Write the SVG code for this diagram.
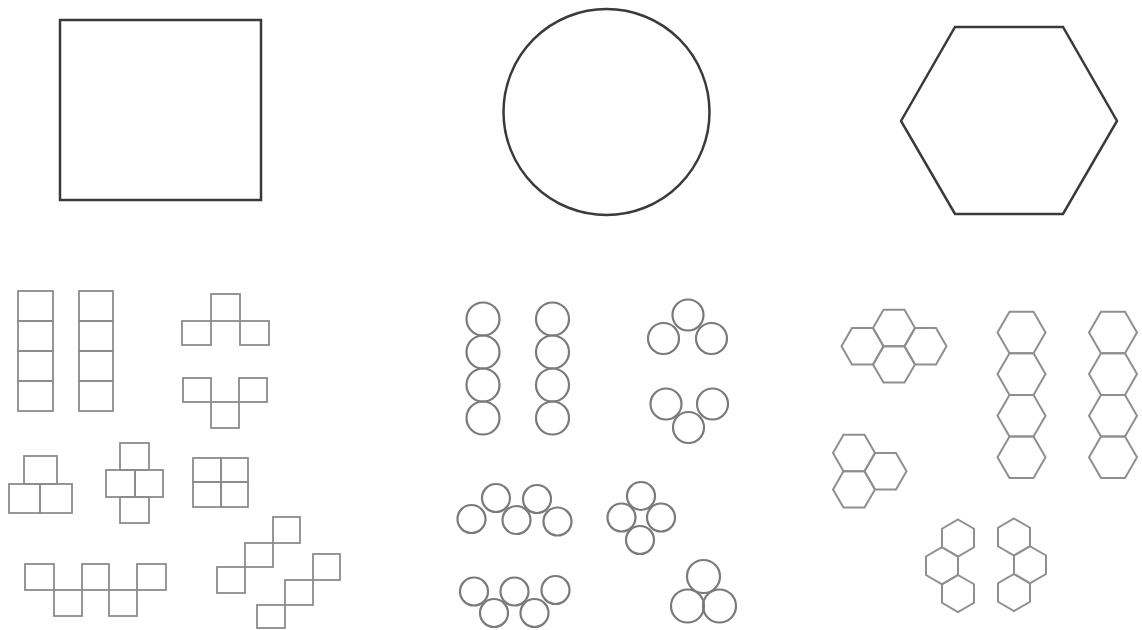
<svg xmlns="http://www.w3.org/2000/svg" width="1142" height="630" viewBox="0 0 1142 630">
<style>
.big{fill:none;stroke:#3a3a3a;stroke-width:2.5}
.sq{fill:none;stroke:#8c8c8c;stroke-width:1.8}
.ci{fill:none;stroke:#7a7a7a;stroke-width:2.2}
.hx{fill:none;stroke:#8f8f8f;stroke-width:2}
</style>
<defs>
<polygon id="hexF" points="-21,0 -10.5,-18.2 10.5,-18.2 21,0 10.5,18.2 -10.5,18.2"/>
<polygon id="hexL" points="-24,0 -12,-20.8 12,-20.8 24,0 12,20.8 -12,20.8"/>
<polygon id="hexP" points="0,-18.5 16,-9.25 16,9.25 0,18.5 -16,9.25 -16,-9.25"/>
</defs>
<rect width="1142" height="630" fill="#ffffff"/>
<g id="big-square"><rect class="big" x="60" y="20" width="201" height="180"/></g>
<g id="big-circle"><circle class="big" cx="606.5" cy="112" r="103"/></g>
<g id="big-hexagon"><polygon class="big" points="901,121 955,27 1063,27 1117,121 1063,214 955,214"/></g>
<g id="squares">
<g id="sq-col1"><rect class="sq" x="18" y="291" width="35" height="30"/><rect class="sq" x="18" y="321" width="35" height="30"/><rect class="sq" x="18" y="351" width="35" height="30"/><rect class="sq" x="18" y="381" width="35" height="30"/></g>
<g id="sq-col2"><rect class="sq" x="79" y="291" width="34" height="30"/><rect class="sq" x="79" y="321" width="34" height="30"/><rect class="sq" x="79" y="351" width="34" height="30"/><rect class="sq" x="79" y="381" width="34" height="30"/></g>
<g id="sq-t-up"><rect class="sq" x="211" y="294" width="29" height="27"/><rect class="sq" x="182" y="321" width="29" height="24"/><rect class="sq" x="240" y="321" width="29" height="24"/></g>
<g id="sq-t-down"><rect class="sq" x="183" y="378" width="28" height="24"/><rect class="sq" x="239" y="378" width="28" height="24"/><rect class="sq" x="211" y="402" width="28" height="26"/></g>
<g id="sq-tri"><rect class="sq" x="24" y="456" width="33" height="28"/><rect class="sq" x="9" y="484" width="31" height="29"/><rect class="sq" x="40" y="484" width="32" height="29"/></g>
<g id="sq-cross"><rect class="sq" x="120" y="443" width="29" height="27"/><rect class="sq" x="106" y="470" width="29" height="27"/><rect class="sq" x="135" y="470" width="28" height="27"/><rect class="sq" x="120" y="497" width="29" height="26"/></g>
<g id="sq-grid"><rect class="sq" x="193" y="458" width="28" height="24"/><rect class="sq" x="221" y="458" width="27" height="24"/><rect class="sq" x="193" y="482" width="28" height="25"/><rect class="sq" x="221" y="482" width="27" height="25"/></g>
<g id="sq-zigzag"><rect class="sq" x="25" y="564" width="29" height="26"/><rect class="sq" x="54" y="590" width="28" height="26"/><rect class="sq" x="82" y="564" width="27" height="26"/><rect class="sq" x="109" y="590" width="28" height="26"/><rect class="sq" x="137" y="564" width="29" height="26"/></g>
<g id="sq-stair1"><rect class="sq" x="273" y="517" width="27" height="26"/><rect class="sq" x="245" y="543" width="28" height="24"/><rect class="sq" x="217" y="567" width="28" height="26"/></g>
<g id="sq-stair2"><rect class="sq" x="313" y="554" width="27" height="26"/><rect class="sq" x="285" y="580" width="28" height="25"/><rect class="sq" x="257" y="605" width="28" height="23"/></g>
</g>
<g id="circles">
<g id="ci-col1"><circle class="ci" cx="483" cy="319" r="16.5"/><circle class="ci" cx="483" cy="352" r="16.5"/><circle class="ci" cx="483" cy="385" r="16.5"/><circle class="ci" cx="483" cy="418" r="16.5"/></g>
<g id="ci-col2"><circle class="ci" cx="552.5" cy="319" r="16.5"/><circle class="ci" cx="552.5" cy="352" r="16.5"/><circle class="ci" cx="552.5" cy="385" r="16.5"/><circle class="ci" cx="552.5" cy="418" r="16.5"/></g>
<g id="ci-tri-up"><circle class="ci" cx="688" cy="315" r="15.5"/><circle class="ci" cx="663.5" cy="338.5" r="15.5"/><circle class="ci" cx="711.5" cy="338.5" r="15.5"/></g>
<g id="ci-tri-down"><circle class="ci" cx="666" cy="404" r="15.5"/><circle class="ci" cx="712.5" cy="404" r="15.5"/><circle class="ci" cx="688.5" cy="427.5" r="15.5"/></g>
<g id="ci-wave1"><circle class="ci" cx="471.5" cy="519" r="14"/><circle class="ci" cx="496" cy="498" r="14"/><circle class="ci" cx="516.5" cy="520" r="14"/><circle class="ci" cx="537" cy="499" r="14"/><circle class="ci" cx="557.5" cy="521.5" r="14"/></g>
<g id="ci-plus"><circle class="ci" cx="641" cy="496" r="14"/><circle class="ci" cx="621.5" cy="517.5" r="14"/><circle class="ci" cx="661" cy="517.5" r="14"/><circle class="ci" cx="640" cy="540" r="14"/></g>
<g id="ci-wave2"><circle class="ci" cx="474" cy="591.5" r="14"/><circle class="ci" cx="494" cy="613" r="14"/><circle class="ci" cx="514.5" cy="591.5" r="14"/><circle class="ci" cx="534.5" cy="613" r="14"/><circle class="ci" cx="555.5" cy="590" r="14"/></g>
<g id="ci-pyramid"><circle class="ci" cx="703.5" cy="576.5" r="16.5"/><circle class="ci" cx="687.5" cy="606" r="16.5"/><circle class="ci" cx="719.5" cy="606" r="16.5"/></g>
</g>
<g id="hexagons">
<g id="hx-flower"><use href="#hexF" class="hx" x="894" y="328"/><use href="#hexF" class="hx" x="862.5" y="346.2"/><use href="#hexF" class="hx" x="925.5" y="346.2"/><use href="#hexF" class="hx" x="894" y="364.4"/></g>
<g id="hx-tri"><use href="#hexF" class="hx" x="854" y="453"/><use href="#hexF" class="hx" x="885.5" y="471.2"/><use href="#hexF" class="hx" x="854" y="489.4"/></g>
<g id="hx-col1"><use href="#hexL" class="hx" x="1021.5" y="332.5"/><use href="#hexL" class="hx" x="1021.5" y="374.1"/><use href="#hexL" class="hx" x="1021.5" y="415.7"/><use href="#hexL" class="hx" x="1021.5" y="457.3"/></g>
<g id="hx-col2"><use href="#hexL" class="hx" x="1113" y="332.5"/><use href="#hexL" class="hx" x="1113" y="374.1"/><use href="#hexL" class="hx" x="1113" y="415.7"/><use href="#hexL" class="hx" x="1113" y="457.3"/></g>
<g id="hx-chain1"><use href="#hexP" class="hx" x="958" y="538"/><use href="#hexP" class="hx" x="942" y="565.75"/><use href="#hexP" class="hx" x="958" y="593.5"/></g>
<g id="hx-chain2"><use href="#hexP" class="hx" x="1014" y="537"/><use href="#hexP" class="hx" x="1030" y="564.75"/><use href="#hexP" class="hx" x="1014" y="592.5"/></g>
</g>
</svg>
